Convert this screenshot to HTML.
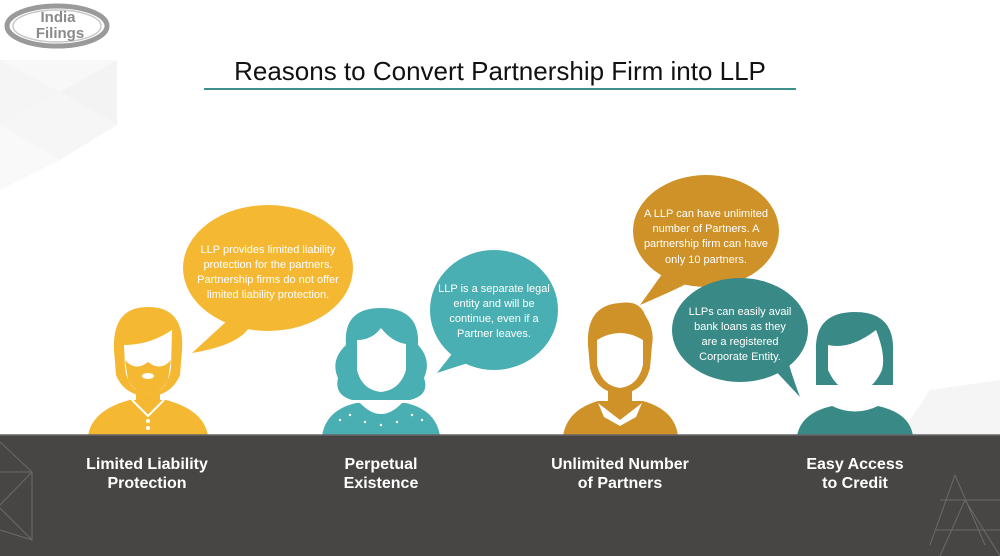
<!DOCTYPE html>
<html><head><meta charset="utf-8"><style>
body{margin:0;width:1000px;height:556px;overflow:hidden;background:#fff}
svg{display:block}
.b{font-family:"Liberation Sans",sans-serif;font-size:11px;fill:#fff;text-anchor:middle}
.l{font-family:"Liberation Sans",sans-serif;font-size:16px;font-weight:bold;fill:#fff;text-anchor:middle}
</style></head><body>
<svg width="1000" height="556" viewBox="0 0 1000 556">
<polygon points="0,60 117,60 60,92 0,60" fill="#f8f8f8"/>
<polygon points="117,60 117,125 60,92" fill="#f3f3f3"/>
<polygon points="0,60 60,92 0,125" fill="#f5f5f5"/>
<polygon points="0,125 60,92 117,125 60,160" fill="#f6f6f6"/>
<polygon points="0,125 60,160 0,190" fill="#f9f9f9"/>
<polygon points="930,390 1000,380 1000,435 900,435" fill="#f5f5f5"/>
<ellipse cx="57" cy="26" rx="50" ry="20" fill="none" stroke="#9a9a9a" stroke-width="5"/>
<ellipse cx="57" cy="26" rx="44" ry="16" fill="#fff" stroke="#c8c8c8" stroke-width="1.5"/>
<text x="58" y="22" font-family="Liberation Sans,sans-serif" font-size="15" font-weight="bold" fill="#8a8a8a" text-anchor="middle">India</text>
<text x="60" y="38" font-family="Liberation Sans,sans-serif" font-size="15" font-weight="bold" fill="#8a8a8a" text-anchor="middle">Filings</text>
<text x="500" y="80" font-family="Liberation Sans,sans-serif" font-size="26" fill="#111" text-anchor="middle">Reasons to Convert Partnership Firm into LLP</text>
<line x1="204" y1="89" x2="796" y2="89" stroke="#3f8f8a" stroke-width="2"/>
<ellipse cx="268" cy="268" rx="85" ry="63" fill="#f5b833"/>
<path d="M228,320 L192,353 Q240,345 250,326 Z" fill="#f5b833"/>
<text class="b" x="268" y="253">LLP provides limited liability</text>
<text class="b" x="268" y="268">protection for the partners.</text>
<text class="b" x="268" y="283">Partnership firms do not offer</text>
<text class="b" x="268" y="298">limited liability protection.</text>
<ellipse cx="494" cy="310" rx="64" ry="60" fill="#4aafb2"/>
<path d="M455,350 L437,373 Q470,362 480,360 Z" fill="#4aafb2"/>
<text class="b" x="494" y="292">LLP is a separate legal</text>
<text class="b" x="494" y="307">entity and will be</text>
<text class="b" x="494" y="322">continue, even if a</text>
<text class="b" x="494" y="337">Partner leaves.</text>
<ellipse cx="706" cy="231" rx="73" ry="56" fill="#cf9228"/>
<path d="M665,270 L640,305 Q675,290 690,282 Z" fill="#cf9228"/>
<text class="b" x="706" y="217">A LLP can have unlimited</text>
<text class="b" x="706" y="232">number of Partners. A</text>
<text class="b" x="706" y="247">partnership firm can have</text>
<text class="b" x="706" y="263">only 10 partners.</text>
<ellipse cx="740" cy="330" rx="68" ry="52" fill="#398a87"/>
<path d="M770,365 L800,397 Q790,370 788,360 Z" fill="#398a87"/>
<text class="b" x="740" y="315">LLPs can easily avail</text>
<text class="b" x="740" y="330">bank loans as they</text>
<text class="b" x="740" y="345">are a registered</text>
<text class="b" x="740" y="360">Corporate Entity.</text>
<g fill="#f5b833">
<path d="M88,436 Q92,410 130,400 L166,400 Q204,410 208,436 Z"/>
<rect x="136" y="385" width="24" height="20"/>
<path d="M114,350 Q112,307 148,307 Q185,307 182,350 L180,375 Q172,395 148,397 Q124,395 116,375 Z"/>
</g>
<path d="M124,345 Q150,345 172,330 L171,368 Q168,392 148,394 Q128,392 125,368 Z" fill="#fff"/>
<path d="M125,360 Q135,372 148,362 Q161,372 171,360 L168,380 Q160,394 148,394 Q136,394 128,380 Z" fill="#f5b833"/>
<ellipse cx="148" cy="376" rx="6" ry="3" fill="#fff"/>
<path d="M132,400 L148,416 L164,400" fill="none" stroke="#fff" stroke-width="2"/>
<circle cx="148" cy="421" r="2" fill="#fff"/><circle cx="148" cy="428" r="2" fill="#fff"/>
<g fill="#4aafb2">
<path d="M322,436 Q326,410 356,403 L406,403 Q436,410 440,436 Z"/>
<path d="M346,345 Q343,308 381,308 Q420,308 418,345 Q432,360 424,378 Q430,395 410,400 L352,400 Q334,395 338,378 Q330,360 346,345 Z"/>
</g>
<path d="M357,340 Q372,340 381,328 Q392,342 406,344 L406,370 Q400,390 381,392 Q362,390 357,370 Z" fill="#fff"/>
<path d="M360,403 Q381,425 402,403 Z" fill="#fff"/>
<g fill="#fff"><circle cx="340" cy="420" r="1.2"/><circle cx="350" cy="415" r="1.2"/><circle cx="412" cy="415" r="1.2"/><circle cx="422" cy="420" r="1.2"/><circle cx="365" cy="422" r="1.2"/><circle cx="381" cy="425" r="1.2"/><circle cx="397" cy="422" r="1.2"/></g>
<g fill="#cf9228">
<path d="M563,436 Q567,410 598,401 L643,401 Q675,410 678,436 Z"/>
<rect x="608" y="385" width="24" height="20"/>
<path d="M588,345 Q586,305 620,303 Q640,300 645,315 Q655,330 652,345 L650,368 Q644,392 620,394 Q596,392 590,368 Z"/>
</g>
<path d="M597,340 Q620,326 643,340 L643,365 Q638,386 620,388 Q602,386 597,365 Z" fill="#fff"/>
<path d="M598,403 L620,420 L642,403 L636,417 L620,426 L604,417 Z" fill="#fff"/>
<g fill="#398a87">
<path d="M797,436 Q801,413 832,406 L878,406 Q910,413 913,436 Z"/>
<path d="M816,352 Q814,312 855,312 Q895,312 893,352 L893,385 L816,385 Z"/>
</g>
<path d="M828,345 Q850,350 876,330 Q886,355 882,370 Q872,392 855,392 Q838,392 828,370 Z" fill="#fff"/>
<path d="M838,385 L872,385 L880,405 Q855,418 830,405 Z" fill="#fff"/>
<rect x="0" y="435" width="1000" height="121" fill="#474644"/>
<line x1="0" y1="435" x2="1000" y2="435" stroke="#666" stroke-width="1.5"/>
<g stroke="#6a6a68" stroke-width="1" fill="none">
<path d="M0,442 L32,472 L0,505 M0,472 L32,472 M32,472 L32,540 L0,508 M0,530 L32,540"/>
<path d="M955,475 L985,545 M955,475 L930,545 M935,530 L1000,530 M940,500 L1000,500 M965,500 L1000,556 M965,500 L940,556"/>
</g>
<text class="l" x="147" y="469">Limited Liability</text>
<text class="l" x="147" y="488">Protection</text>
<text class="l" x="381" y="469">Perpetual</text>
<text class="l" x="381" y="488">Existence</text>
<text class="l" x="620" y="469">Unlimited Number</text>
<text class="l" x="620" y="488">of Partners</text>
<text class="l" x="855" y="469">Easy Access</text>
<text class="l" x="855" y="488">to Credit</text>
</svg>
</body></html>
